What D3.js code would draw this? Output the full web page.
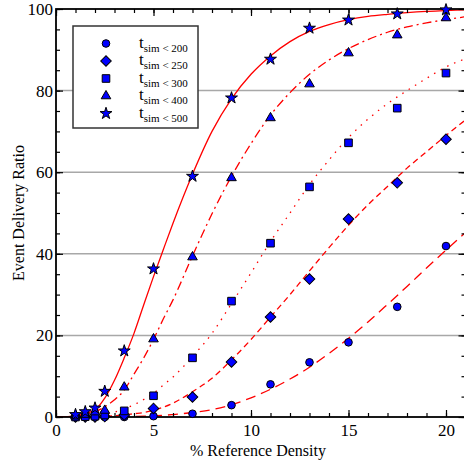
<!DOCTYPE html>
<html><head><meta charset="utf-8">
<script src="https://cdn.jsdelivr.net/npm/d3@7/dist/d3.min.js"></script>
<style>body{margin:0;background:#fff}svg{display:block}svg text{font-family:"Liberation Serif","Times New Roman",Times,"DejaVu Serif",serif !important}</style>
</head><body>
<svg id="c" width="464" height="464"></svg>
<script>
// ---- data ----
const densities = [1, 1.5, 2, 2.5, 3.5, 5, 7, 9, 11, 13, 15, 17.5, 20];
const t200 = [0, 0, 0, 0, 0, 0.2, 0.8, 2.9, 8, 13.4, 18.3, 27, 41.9];
const t250 = [0, 0, 0, 0.1, 0.5, 2.1, 4.9, 13.5, 24.5, 33.8, 48.5, 57.4, 68.1];
const t300 = [0, 0.1, 0.2, 0.5, 1.5, 5.2, 14.5, 28.4, 42.6, 56.4, 67.2, 75.7, 84.3];
const t400 = [0.2, 0.6, 1.2, 1.6, 7.3, 19.1, 39.2, 58.6, 73.3, 81.6, 89.2, 93.6, 97.8];
const t500 = [0.6, 1.3, 2.2, 6.3, 16.2, 36.3, 59, 78.2, 87.7, 95.3, 97.3, 98.8, 99.8];
// fitted curves, sampled by eye from the reference
const fitX = [0,1,2,2.5,3,3.5,4,4.5,5,5.5,6,7,8,9,10,11,12,13,14,15,16,17,18,19,20,21];
const fit200 = [0,0,0,0,0,0,0.1,0.2,0.3,0.4,0.6,1.1,1.8,3,4.7,6.8,9.3,12.2,15.6,19.3,23.3,27.6,32,36.5,40.9,45.2];
const fit250 = [0,0,0.1,0.2,0.3,0.5,0.8,1.1,1.6,2.4,3.4,6.2,9.5,14,19,24.5,30,35.8,41.5,47,52,56.5,61,65,69,72.8];
const fit300 = [0,0,0.4,0.7,1.2,2,3,4.3,5.8,7.8,9.8,14.8,20.5,27.8,35.3,43,50,57,63,68.5,73,76.8,80,83,85.8,87.8];
const fit400 = [0,0.2,1.3,2.5,4.2,6.6,10.5,14.5,19,24,28.7,39.5,49.8,59,67,74,79.5,84,87.5,90.3,92.5,94.3,95.6,96.6,97.4,98.1];
const fit500 = [0,0.3,1.8,4.6,9,14.5,20.5,27.5,34.4,41,47.5,59.5,70,78,84,88.5,92,94.5,96.2,97.4,98.2,98.7,99.1,99.4,99.6,99.8];
const legendLabels = ["< 200", "< 250", "< 300", "< 400", "< 500"];
const xTicks = [0, 5, 10, 15, 20];
const yTicks = [0, 20, 40, 60, 80, 100];
const gridValues = [20, 40, 60, 80];

const FONT = '"Liberation Serif", "Times New Roman", Times, "DejaVu Serif", serif';
const svg = d3.select("#c");
const x = d3.scaleLinear().domain([0, 21]).range([56, 465.5]);
const y = d3.scaleLinear().domain([0, 100]).range([417, 9]);

// grid
svg.append("g").selectAll("line").data(gridValues).join("line")
  .attr("x1", x(0)).attr("x2", x(21)).attr("y1", d => y(d)).attr("y2", d => y(d))
  .attr("stroke", "#a8a8a8").attr("stroke-width", 1.5);

const series = [
  {vals: t200, fit: fit200, sym: d3.symbolCircle, size: 46, rot: 0, dash: "10,6"},
  {vals: t250, fit: fit250, sym: d3.symbolSquare, size: 56, rot: 45, dash: "6,4"},
  {vals: t300, fit: fit300, sym: d3.symbolSquare, size: 58, rot: 0, dash: "1.5,6"},
  {vals: t400, fit: fit400, sym: d3.symbolTriangle, size: 40, rot: 0, dash: "9,4,2,4"},
  {vals: t500, fit: fit500, sym: d3.symbolStar, size: 44, rot: 0, dash: null}
];

// curves
const line = d3.line().x(d => x(d[0])).y(d => y(d[1])).curve(d3.curveMonotoneX);
svg.append("clipPath").attr("id", "pc").append("rect")
  .attr("x", x(0)).attr("y", y(100)).attr("width", x(21) - x(0)).attr("height", y(0) - y(100));
const cg = svg.append("g").attr("clip-path", "url(#pc)");
series.forEach(s => {
  cg.append("path").datum(fitX.map((v, i) => [v, s.fit[i]]))
    .attr("d", line).attr("fill", "none").attr("stroke", "#ff0000").attr("stroke-width", 1.3)
    .attr("stroke-dasharray", s.dash);
});

// axes
function ax(gen, tr) { const g = svg.append("g").attr("transform", tr).call(gen); g.select(".domain").remove(); return g; }
const bx = ax(d3.axisBottom(x).tickValues(xTicks).tickSize(-7).tickPadding(7).tickFormat(d3.format("d")), `translate(0,${y(0)})`);
ax(d3.axisBottom(x).tickValues(d3.range(0, 22, 1)).tickSize(-4).tickFormat(""), `translate(0,${y(0)})`);
ax(d3.axisTop(x).tickValues(xTicks).tickSize(-7).tickFormat(""), `translate(0,${y(100)})`);
ax(d3.axisTop(x).tickValues(d3.range(0, 22, 1)).tickSize(-4).tickFormat(""), `translate(0,${y(100)})`);
const ly = ax(d3.axisLeft(y).tickValues(yTicks).tickSize(-7).tickPadding(3).tickFormat(d3.format("d")), `translate(${x(0)},0)`);
ax(d3.axisLeft(y).tickValues(d3.range(0, 101, 5)).tickSize(-4).tickFormat(""), `translate(${x(0)},0)`);
ax(d3.axisRight(y).tickValues(yTicks).tickSize(-7).tickFormat(""), `translate(${x(21)},0)`);
ax(d3.axisRight(y).tickValues(d3.range(0, 101, 5)).tickSize(-4).tickFormat(""), `translate(${x(21)},0)`);
svg.selectAll(".tick line").attr("stroke", "#000").attr("stroke-width", 1.2);
[bx, ly].forEach(g => { g.attr("font-family", FONT); g.selectAll("text").attr("font-size", 17).attr("fill", "#000"); });

// frame
svg.append("rect").attr("x", x(0)).attr("y", y(100)).attr("width", x(21) - x(0)).attr("height", y(0) - y(100))
  .attr("fill", "none").attr("stroke", "#000").attr("stroke-width", 1.8);

// markers
series.forEach(s => {
  svg.append("g").selectAll("path").data(densities.map((v, i) => [v, s.vals[i]])).join("path")
    .attr("d", d3.symbol(s.sym, s.size))
    .attr("transform", d => `translate(${x(d[0])},${y(d[1])}) rotate(${s.rot})`)
    .attr("fill", "#0000ff").attr("stroke", "#000").attr("stroke-width", 1);
});

// axis titles
svg.append("text").attr("x", 258).attr("y", 456).attr("text-anchor", "middle").attr("font-size", 16)
  .attr("font-family", FONT).text("% Reference Density");
svg.append("text").attr("transform", "translate(24,213) rotate(-90)").attr("text-anchor", "middle").attr("font-size", 16)
  .attr("font-family", FONT).text("Event Delivery Ratio");

// legend
const lg = svg.append("g").attr("font-family", FONT);
lg.append("rect").attr("x", 73).attr("y", 26).attr("width", 125).attr("height", 102)
  .attr("fill", "#fff").attr("stroke", "#333").attr("stroke-width", 1.5);
series.forEach((s, i) => {
  const yy = 43.5 + i * 17.5;
  lg.append("path").attr("d", d3.symbol(s.sym, s.size))
    .attr("transform", `translate(106,${yy}) rotate(${s.rot})`)
    .attr("fill", "#0000ff").attr("stroke", "#000").attr("stroke-width", 1);
  const t = lg.append("text").attr("x", 139).attr("y", yy + 4).attr("font-size", 17).text("t");
  t.append("tspan").attr("dy", 4).attr("font-size", 11).text("sim " + legendLabels[i]);
});
</script>
</body></html>
